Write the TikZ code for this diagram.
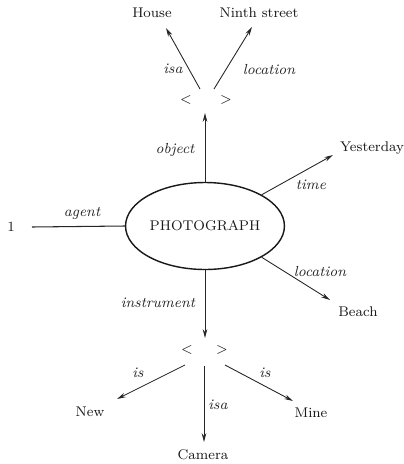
\documentclass[tikz,border=0pt]{standalone}
\usetikzlibrary{arrows.meta,shapes.geometric}
\begin{document}
\begin{tikzpicture}[x=0.02cm,y=-0.02cm,
  rm/.style={font=\fontsize{8}{9}\selectfont, inner sep=0.5pt, text=black!90},
  lbl/.style={font=\fontsize{8.3}{9}\selectfont\itshape, inner sep=0.5pt, text=black!85},
  arr/.style={-{Stealth[length=5pt,width=2.6pt]}, line width=0.5pt, draw=black!85},
  ln/.style={line width=0.6pt, draw=black!85}]
\useasboundingbox (0,0) rectangle (404,464);
% nodes
\node[ellipse, draw=black!90, line width=0.8pt, minimum width=3.06cm, minimum height=1.74cm, inner sep=0pt, rm] (photo) at (205,226) {PHOTOGRAPH};
\node[rm] (house) at (152,13) {House};
\node[rm] (ninth) at (259,13) {Ninth street};
\node[rm] (lt1) at (186,100) {<};
\node[rm] (gt1) at (226,100) {>};
\node[rm] (one) at (11,227) {1};
\node[rm] (yest) at (372,148) {Yesterday};
\node[rm] (beach) at (358,312) {Beach};
\node[rm] (lt2) at (187,350) {<};
\node[rm] (gt2) at (222,350) {>};
\node[rm] (new) at (90,412) {New};
\node[rm] (mine) at (311,413) {Mine};
\node[rm] (camera) at (203,455) {Camera};
% coordinates (free ends)
\coordinate (h1l) at (200,89);
\coordinate (h1r) at (214,89);
\coordinate (h1b) at (205,113);
\coordinate (houseTip) at (166,28);
\coordinate (ninthTip) at (252,27);
\coordinate (yestTip) at (333,155);
\coordinate (beachTip) at (330,300);
\coordinate (oneEnd) at (32,227);
\coordinate (h2t) at (205,338);
\coordinate (h2l) at (185,365);
\coordinate (h2m) at (204,366);
\coordinate (h2r) at (225,365);
\coordinate (newTip) at (117,399);
\coordinate (mineTip) at (293,401);
\coordinate (camTip) at (204,442);
% connectors
\draw[arr] (h1l) -- (houseTip);
\draw[arr] (h1r) -- (ninthTip);
\draw[arr] (photo.north) -- (h1b);
\draw[arr] (photo.north east) -- (yestTip);
\draw[arr] (photo.south east) -- (beachTip);
\draw[ln] (photo.west) -- (oneEnd);
\draw[arr] (photo.south) -- (h2t);
\draw[arr] (h2l) -- (newTip);
\draw[arr] (h2m) -- (camTip);
\draw[arr] (h2r) -- (mineTip);
% labels
\node[lbl] (lisa1) at (173,69) {isa};
\node[lbl] (lloc1) at (269,69) {location};
\node[lbl] (lobj) at (175,150) {object};
\node[lbl] (ltime) at (311,185) {time};
\node[lbl] (lagent) at (82,213) {agent};
\node[lbl] (lloc2) at (320,272) {location};
\node[lbl] (linst) at (158,303) {instrument};
\node[lbl] (lis1) at (138,373) {is};
\node[lbl] (lis2) at (265,373) {is};
\node[lbl] (lisa2) at (218,405) {isa};
\end{tikzpicture}
\end{document}
